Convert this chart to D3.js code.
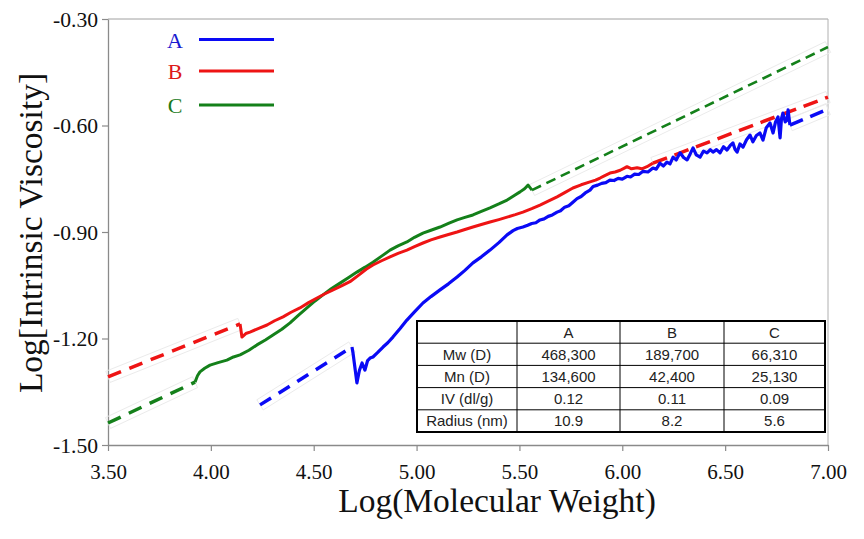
<!DOCTYPE html>
<html>
<head>
<meta charset="utf-8">
<script src="https://cdn.jsdelivr.net/npm/d3@7"></script>
<style>
  html, body { margin: 0; padding: 0; background: #fff; }
  svg { display: block; }
  .serif { font-family: "Liberation Serif", "Times New Roman", serif; }
</style>
</head>
<body>
<svg id="chart" width="864" height="539"></svg>
<script>
// ---------------- DATA ----------------
const seriesNames = ["A", "B", "C"];

const xTickValues = [3.5, 4.0, 4.5, 5.0, 5.5, 6.0, 6.5, 7.0];
const yTickValues = [-0.30, -0.60, -0.90, -1.20, -1.50];

// Sample A (blue)
const fitLowA = [[4.239, -1.387], [4.686, -1.224]];
const curveA = [
  [4.686, -1.224], [4.691, -1.241], [4.710, -1.325], [4.722, -1.290], [4.735, -1.269],
  [4.749, -1.289], [4.762, -1.262], [4.774, -1.255], [4.788, -1.252], [4.810, -1.240],
  [4.837, -1.224], [4.860, -1.212], [4.885, -1.196], [4.920, -1.172], [4.953, -1.148],
  [4.990, -1.125], [5.031, -1.100], [5.070, -1.082], [5.114, -1.063], [5.155, -1.046],
  [5.197, -1.027], [5.235, -1.008], [5.274, -0.987], [5.315, -0.970], [5.357, -0.951],
  [5.400, -0.930], [5.440, -0.908], [5.469, -0.896], [5.490, -0.890], [5.517, -0.886],
  [5.540, -0.881], [5.560, -0.876], [5.580, -0.874], [5.600, -0.866], [5.620, -0.863],
  [5.640, -0.856], [5.660, -0.852], [5.683, -0.844], [5.700, -0.840], [5.720, -0.830],
  [5.740, -0.826], [5.760, -0.816], [5.780, -0.806], [5.800, -0.800], [5.820, -0.790],
  [5.843, -0.782], [5.858, -0.772], [5.880, -0.768], [5.900, -0.763], [5.920, -0.761],
  [5.940, -0.754], [5.960, -0.755], [5.980, -0.749], [6.000, -0.751], [6.023, -0.743],
  [6.040, -0.745], [6.060, -0.737], [6.080, -0.738], [6.101, -0.729], [6.125, -0.731],
  [6.149, -0.720], [6.165, -0.723], [6.183, -0.706], [6.200, -0.714], [6.217, -0.703],
  [6.232, -0.708], [6.247, -0.689], [6.262, -0.697], [6.281, -0.677], [6.298, -0.690],
  [6.315, -0.697], [6.330, -0.680], [6.344, -0.663], [6.360, -0.683], [6.378, -0.689],
  [6.395, -0.672], [6.412, -0.677], [6.428, -0.668], [6.441, -0.675], [6.458, -0.668],
  [6.475, -0.677], [6.492, -0.660], [6.509, -0.669], [6.524, -0.657], [6.538, -0.649],
  [6.548, -0.667], [6.558, -0.675], [6.572, -0.652], [6.587, -0.661], [6.604, -0.640],
  [6.621, -0.627], [6.635, -0.646], [6.652, -0.628], [6.669, -0.621], [6.684, -0.641],
  [6.700, -0.606], [6.718, -0.593], [6.733, -0.621], [6.745, -0.590], [6.757, -0.576],
  [6.767, -0.635], [6.774, -0.580], [6.781, -0.565], [6.792, -0.590], [6.801, -0.585],
  [6.806, -0.556], [6.815, -0.599]
];
const fitHighA = [[6.815, -0.599], [7.0, -0.554]];

// Sample B (red)
const fitLowB = [[3.5, -1.308], [4.142, -1.159]];
const curveB = [
  [4.142, -1.159], [4.151, -1.196], [4.170, -1.186], [4.190, -1.182], [4.230, -1.172],
  [4.273, -1.162], [4.310, -1.150], [4.351, -1.139], [4.390, -1.126], [4.433, -1.114],
  [4.475, -1.099], [4.516, -1.086], [4.555, -1.074], [4.594, -1.063], [4.635, -1.052],
  [4.676, -1.040], [4.722, -1.020], [4.755, -1.005], [4.788, -0.993], [4.830, -0.981],
  [4.871, -0.970], [4.910, -0.960], [4.953, -0.951], [4.990, -0.941], [5.031, -0.931],
  [5.070, -0.922], [5.114, -0.914], [5.155, -0.907], [5.197, -0.900], [5.235, -0.893],
  [5.274, -0.886], [5.315, -0.879], [5.357, -0.872], [5.400, -0.865], [5.440, -0.858],
  [5.480, -0.851], [5.517, -0.844], [5.560, -0.834], [5.600, -0.824], [5.640, -0.813],
  [5.683, -0.801], [5.720, -0.789], [5.760, -0.776], [5.800, -0.767], [5.843, -0.759],
  [5.870, -0.754], [5.892, -0.748], [5.915, -0.741], [5.940, -0.734], [5.965, -0.731],
  [5.990, -0.726], [6.010, -0.720], [6.023, -0.716], [6.045, -0.722], [6.072, -0.719],
  [6.095, -0.722], [6.120, -0.716], [6.149, -0.706]
];
const fitHighB = [[6.149, -0.706], [7.0, -0.520]];

// Sample C (green)
const fitLowC = [[3.5, -1.438], [3.923, -1.323]];
const curveC = [
  [3.923, -1.323], [3.935, -1.305], [3.947, -1.294], [3.970, -1.284], [3.996, -1.275],
  [4.035, -1.268], [4.078, -1.261], [4.110, -1.252], [4.142, -1.246], [4.185, -1.233],
  [4.224, -1.218], [4.265, -1.204], [4.302, -1.190], [4.345, -1.174], [4.385, -1.156],
  [4.425, -1.135], [4.467, -1.114], [4.505, -1.095], [4.545, -1.077], [4.585, -1.060],
  [4.628, -1.044], [4.670, -1.028], [4.710, -1.013], [4.750, -0.999], [4.788, -0.985],
  [4.830, -0.968], [4.871, -0.951], [4.910, -0.939], [4.953, -0.928], [4.990, -0.915],
  [5.031, -0.903], [5.070, -0.895], [5.114, -0.886], [5.155, -0.876], [5.197, -0.866],
  [5.235, -0.859], [5.274, -0.852], [5.315, -0.842], [5.357, -0.832], [5.400, -0.821],
  [5.440, -0.810], [5.475, -0.797], [5.503, -0.787], [5.525, -0.778], [5.542, -0.768],
  [5.561, -0.782]
];
const fitHighC = [[5.561, -0.782], [7.0, -0.379]];

// Table
const tableColumns = ["A", "B", "C"];
const tableRowLabels = ["Mw (D)", "Mn (D)", "IV (dl/g)", "Radius (nm)"];
const tableValuesA = ["468,300", "134,600", "0.12", "10.9"];
const tableValuesB = ["189,700", "42,400", "0.11", "8.2"];
const tableValuesC = ["66,310", "25,130", "0.09", "5.6"];

// ---------------- STYLE / LAYOUT ----------------
const colors = { A: "#0a0af5", B: "#ee1414", C: "#14801a" };
const textColors = { A: "#1a1ad0", B: "#dd1a1a", C: "#1a7a1a" };
const serif = "'Liberation Serif', 'Times New Roman', serif";
const sans = "'Liberation Sans', Arial, sans-serif";
const axisGray = "#8a8a8a";

const plot = { left: 108, right: 828, top: 19, bottom: 445 };

const svg = d3.select("#chart");

const x = d3.scaleLinear().domain([3.5, 7.0]).range([plot.left, plot.right]);
const y = d3.scaleLinear().domain([-1.5, -0.3]).range([plot.bottom, plot.top]);

// Frame (top & right borders)
svg.append("line").attr("x1", plot.left).attr("x2", plot.right)
  .attr("y1", plot.top).attr("y2", plot.top)
  .attr("stroke", "#a0a0a0").attr("stroke-width", 1);
svg.append("line").attr("x1", plot.right).attr("x2", plot.right)
  .attr("y1", plot.top).attr("y2", plot.bottom)
  .attr("stroke", "#b0b0b0").attr("stroke-width", 1);

// Axes
const fmt = d => d.toFixed(2);
const xAxis = d3.axisBottom(x).tickValues(xTickValues)
  .tickFormat(fmt).tickSizeInner(6).tickSizeOuter(0).tickPadding(8);
const yAxis = d3.axisLeft(y).tickValues(yTickValues)
  .tickFormat(fmt).tickSizeInner(6).tickSizeOuter(0).tickPadding(4);

const gx = svg.append("g").attr("transform", `translate(0,${plot.bottom})`).call(xAxis);
const gy = svg.append("g").attr("transform", `translate(${plot.left},0)`).call(yAxis);

[gx, gy].forEach(g => {
  g.attr("font-family", null).attr("font-size", null);
  g.select(".domain").attr("stroke", axisGray).attr("stroke-width", 1.3);
  g.selectAll(".tick line").attr("stroke", axisGray).attr("stroke-width", 1.2);
  g.selectAll(".tick text").attr("fill", "#111").attr("class", "serif")
    .style("font-family", "'Liberation Serif', 'Times New Roman', serif");
});
gx.selectAll(".tick text").style("font-size", "21px").attr("dy", "0.95em");
gy.selectAll(".tick text").style("font-size", "20px").attr("dy", "0.36em")
  .attr("transform", "scale(1.08,1)")
  .attr("x", -10 / 1.08);

// Axis titles
svg.append("text")
  .attr("x", 497).attr("y", 512)
  .attr("text-anchor", "middle")
  .style("font-family", serif).style("font-size", "33.5px").attr("fill", "#111")
  .text("Log(Molecular Weight)");

svg.append("text")
  .attr("transform", "translate(42,233) rotate(-90)")
  .attr("text-anchor", "middle")
  .style("font-family", serif).style("font-size", "33.5px").attr("fill", "#111")
  .text("Log[Intrinsic Viscosity]");

// Faint boxes around extrapolated fits
function fitBox(seg, half) {
  const p1 = [x(seg[0][0]), y(seg[0][1])];
  const p2 = [x(seg[1][0]), y(seg[1][1])];
  const dx = p2[0] - p1[0], dy = p2[1] - p1[1];
  const len = Math.hypot(dx, dy);
  const nx = -dy / len * half, ny = dx / len * half;
  return [[p1[0] + nx, p1[1] + ny], [p2[0] + nx, p2[1] + ny],
          [p2[0] - nx, p2[1] - ny], [p1[0] - nx, p1[1] - ny]];
}
const fits = [
  { key: "A", seg: fitLowA, w: 3.5, dash: "13,9" },
  { key: "A", seg: fitHighA, w: 3.5, dash: "14,8" },
  { key: "B", seg: fitLowB, w: 3.5, dash: "14,9" },
  { key: "B", seg: fitHighB, w: 3.5, dash: "15,8" },
  { key: "C", seg: fitLowC, w: 3.5, dash: "14,9" },
  { key: "C", seg: fitHighC, w: 2.6, dash: "10,6" }
];
fits.forEach(f => {
  svg.append("polygon")
    .attr("points", fitBox(f.seg, 6).map(p => p.join(",")).join(" "))
    .attr("fill", "none").attr("stroke", "#ebebeb").attr("stroke-width", 1);
});

const line = d3.line().x(d => x(d[0])).y(d => y(d[1]));

fits.forEach(f => {
  svg.append("path").datum(f.seg).attr("d", line)
    .attr("fill", "none").attr("stroke", colors[f.key])
    .attr("stroke-width", f.w).attr("stroke-dasharray", f.dash);
});

const curves = [
  { key: "C", data: curveC, w: 3 },
  { key: "B", data: curveB, w: 3 },
  { key: "A", data: curveA, w: 3.2 }
];
curves.forEach(c => {
  svg.append("path").datum(c.data).attr("d", line)
    .attr("fill", "none").attr("stroke", colors[c.key])
    .attr("stroke-width", c.w).attr("stroke-linejoin", "round");
});

// Legend
const legendY = [39.5, 71, 105];
seriesNames.forEach((name, i) => {
  svg.append("text")
    .attr("x", 175).attr("y", legendY[i] + 8)
    .attr("text-anchor", "middle")
    .style("font-family", serif).style("font-size", "22px")
    .attr("fill", textColors[name]).text(name);
  svg.append("line")
    .attr("x1", 199).attr("x2", 274)
    .attr("y1", legendY[i]).attr("y2", legendY[i])
    .attr("stroke", colors[name]).attr("stroke-width", 3.2);
});

// Table
const tbl = { x0: 417, rowTop: 321, rowH: 22.2, colX: [417, 517, 620, 724, 825] };
const nRows = tableRowLabels.length + 1;
const tg = svg.append("g");
tg.append("rect")
  .attr("x", tbl.x0).attr("y", tbl.rowTop)
  .attr("width", tbl.colX[4] - tbl.x0).attr("height", tbl.rowH * nRows)
  .attr("fill", "#fff").attr("stroke", "#000").attr("stroke-width", 2);
for (let r = 1; r < nRows; r++) {
  tg.append("line")
    .attr("x1", tbl.x0).attr("x2", tbl.colX[4])
    .attr("y1", tbl.rowTop + r * tbl.rowH).attr("y2", tbl.rowTop + r * tbl.rowH)
    .attr("stroke", "#000").attr("stroke-width", 1);
}
for (let c = 1; c < 4; c++) {
  tg.append("line")
    .attr("x1", tbl.colX[c]).attr("x2", tbl.colX[c])
    .attr("y1", tbl.rowTop).attr("y2", tbl.rowTop + tbl.rowH * nRows)
    .attr("stroke", "#000").attr("stroke-width", 1);
}
function cellText(col, row, txt) {
  tg.append("text")
    .attr("x", (tbl.colX[col] + tbl.colX[col + 1]) / 2)
    .attr("y", tbl.rowTop + row * tbl.rowH + tbl.rowH / 2 + 5.5)
    .attr("text-anchor", "middle")
    .style("font-family", sans).style("font-size", "15px").attr("fill", "#222")
    .text(txt);
}
tableColumns.forEach((c, i) => cellText(i + 1, 0, c));
const tableValues = [tableValuesA, tableValuesB, tableValuesC];
tableRowLabels.forEach((lab, r) => {
  cellText(0, r + 1, lab);
  tableValues.forEach((vals, c) => cellText(c + 1, r + 1, vals[r]));
});
</script>
</body>
</html>
